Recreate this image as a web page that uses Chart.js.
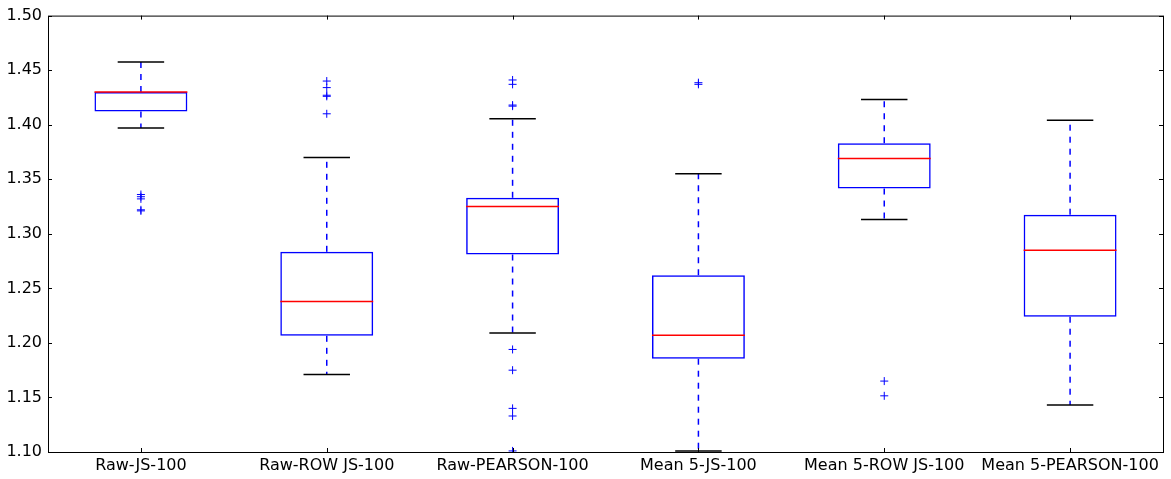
<!DOCTYPE html>
<html lang="en">
<head>
    <meta charset="UTF-8">
    <title>Boxplot</title>
    <script src="https://cdn.jsdelivr.net/npm/chart.js"></script>
    <style>
        body { margin: 0; background: #fff; }
    </style>
</head>
<body>
    <canvas id="boxChart" width="1171" height="479"></canvas>
    <script>
        // one box per method
        const categories = ['Raw-JS-100', 'Raw-ROW JS-100', 'Raw-PEARSON-100', 'Mean 5-JS-100', 'Mean 5-ROW JS-100', 'Mean 5-PEARSON-100'];
        const whiskerLow = [1.397, 1.171, 1.209, 1.101, 1.313, 1.143];
        const q1 = [1.412, 1.2065, 1.281, 1.1855, 1.3415, 1.224];
        const median = [1.430, 1.238, 1.325, 1.207, 1.369, 1.285];
        const q3 = [1.430, 1.2835, 1.333, 1.262, 1.383, 1.3175];
        const whiskerHigh = [1.4575, 1.370, 1.4055, 1.355, 1.423, 1.404];
        const fliers = [
            [1.336, 1.334, 1.332, 1.322, 1.321],
            [1.440, 1.434, 1.427, 1.426, 1.410],
            [1.441, 1.437, 1.418, 1.417, 1.194, 1.175, 1.140, 1.133, 1.101],
            [1.4385, 1.437],
            [1.165, 1.1515],
            []
        ];
        const yTicks = [1.10, 1.15, 1.20, 1.25, 1.30, 1.35, 1.40, 1.45, 1.50];

        const BLUE = '#0000ff';

        const flierPoints = [];
        fliers.forEach((vals, i) => vals.forEach(v => flierPoints.push({ x: categories[i], y: v })));

        // whiskers, caps and medians on top of the boxes
        const boxWhiskers = {
            id: 'boxWhiskers',
            afterDatasetsDraw(chart) {
                const ctx = chart.ctx;
                const y = chart.scales.y;
                const bars = chart.getDatasetMeta(0).data;
                const seg = (x1, y1, x2, y2) => {
                    ctx.beginPath();
                    ctx.moveTo(x1, y1);
                    ctx.lineTo(x2, y2);
                    ctx.stroke();
                };
                ctx.save();
                categories.forEach((c, i) => {
                    const cx = bars[i].x;
                    const half = bars[i].width / 2;
                    ctx.lineWidth = 1.5;

                    ctx.strokeStyle = BLUE;
                    ctx.setLineDash([6, 6]);
                    seg(cx, y.getPixelForValue(q3[i]), cx, y.getPixelForValue(whiskerHigh[i]));
                    seg(cx, y.getPixelForValue(q1[i]), cx, y.getPixelForValue(whiskerLow[i]));

                    ctx.setLineDash([]);
                    ctx.strokeStyle = '#000';
                    seg(cx - half / 2, y.getPixelForValue(whiskerHigh[i]), cx + half / 2, y.getPixelForValue(whiskerHigh[i]));
                    seg(cx - half / 2, y.getPixelForValue(whiskerLow[i]), cx + half / 2, y.getPixelForValue(whiskerLow[i]));

                    ctx.strokeStyle = '#ff0000';
                    seg(cx - half, y.getPixelForValue(median[i]), cx + half, y.getPixelForValue(median[i]));
                });
                ctx.restore();
            },
            afterDraw(chart) {
                // frame with inward ticks on all four sides
                const ctx = chart.ctx;
                const { left, right, top, bottom } = chart.chartArea;
                const x = chart.scales.x;
                const y = chart.scales.y;
                ctx.save();
                ctx.strokeStyle = '#000';
                ctx.lineWidth = 1;
                ctx.strokeRect(left + 0.5, top + 0.5, right - left, bottom - top);
                ctx.beginPath();
                yTicks.forEach(v => {
                    const py = Math.round(y.getPixelForValue(v)) + 0.5;
                    ctx.moveTo(left, py); ctx.lineTo(left + 4, py);
                    ctx.moveTo(right, py); ctx.lineTo(right - 4, py);
                });
                categories.forEach((c, i) => {
                    const px = Math.round(x.getPixelForValue(i)) + 0.5;
                    ctx.moveTo(px, bottom); ctx.lineTo(px, bottom - 4);
                    ctx.moveTo(px, top); ctx.lineTo(px, top + 4);
                });
                ctx.stroke();
                ctx.restore();
            }
        };

        Chart.defaults.font.family = "'DejaVu Sans', sans-serif";
        Chart.defaults.font.size = 16;
        Chart.defaults.color = '#000';

        const config = {
            type: 'bar',
            data: {
                labels: categories,
                datasets: [{
                    // boxes span q1..q3
                    data: categories.map((c, i) => [q1[i], q3[i]]),
                    backgroundColor: 'rgba(0,0,0,0)',
                    borderColor: BLUE,
                    borderWidth: 1.5,
                    borderSkipped: false,
                    categoryPercentage: 1,
                    barPercentage: 0.5
                }, {
                    type: 'scatter',
                    data: flierPoints,
                    pointStyle: 'cross',
                    pointRadius: 4,
                    borderColor: BLUE,
                    borderWidth: 1,
                    backgroundColor: BLUE
                }]
            },
            options: {
                responsive: false,
                animation: false,
                events: [],
                layout: { padding: { top: 13, right: 8, left: 0, bottom: 0 } },
                plugins: {
                    legend: { display: false },
                    tooltip: { enabled: false }
                },
                scales: {
                    x: {
                        type: 'category',
                        offset: true,
                        grid: { display: false, drawTicks: false },
                        border: { display: false },
                        ticks: { padding: 4, maxRotation: 0, autoSkip: false },
                        afterFit(scale) { scale.height = 27; }
                    },
                    y: {
                        min: 1.10,
                        max: 1.50,
                        grid: { display: false, drawTicks: false },
                        border: { display: false },
                        afterBuildTicks(scale) { scale.ticks = yTicks.map(v => ({ value: v })); },
                        ticks: {
                            padding: 6,
                            callback: v => Number(v).toFixed(2)
                        },
                        afterFit(scale) { scale.width = 48; }
                    }
                }
            },
            plugins: [boxWhiskers]
        };

        const ctx = document.querySelector('#boxChart').getContext('2d');
        const boxChart = new Chart(ctx, config);
    </script>
</body>
</html>
